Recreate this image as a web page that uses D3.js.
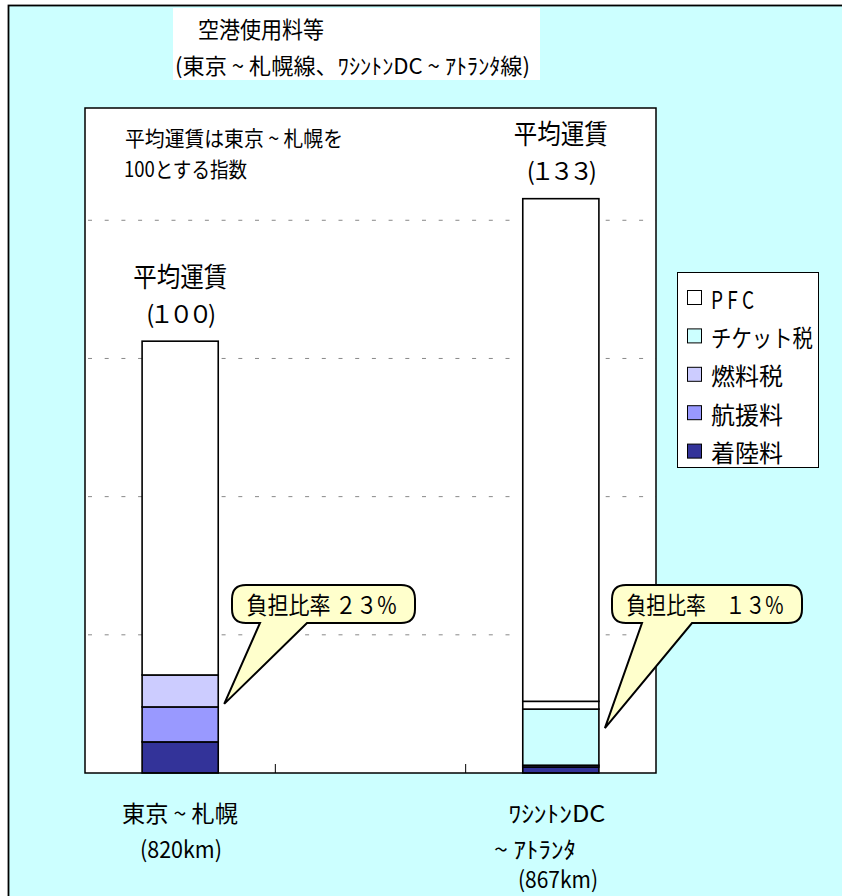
<!DOCTYPE html>
<html>
<head>
<meta charset="utf-8">
<script src="https://cdn.jsdelivr.net/npm/d3@7"></script>
<style>
  body { margin: 0; background: #fff; }
  text { font-family: "Noto Sans CJK JP", sans-serif; fill: #000; }
</style>
</head>
<body>
<div id="chart"></div>
<script>
var svgWidth = 842;
var svgHeight = 896;

// plot area
var margin = { top: 108, left: 85 };
var width = 571;
var height = 665;

// data (index: 東京～札幌 = 100)
var categories = ["tokyo", "blank", "dc"];
var catLabels = [["東京 ~ 札幌", "(820km)"], [], ["ﾜｼﾝﾄﾝDC", "~ ｱﾄﾗﾝﾀ", "(867km)"]];
var seriesNames = ["着陸料", "航援料", "燃料税", "チケット税", "PFC", "運賃"];
var landingFee = [7.2, 0, 1.4];
var navAidFee = [8.1, 0, 0.4];
var fuelTax = [7.4, 0, 0];
var ticketTax = [0, 0, 13.0];
var pfcFee = [0, 0, 1.8];
var baseFare = [77.3, 0, 116.4];
var fareIndex = ["(１００)", "", "(１３３)"];
var burdenLabels = ["負担比率 ２３%", "", "負担比率　１３%"];
var calloutAt = [16, 0, 10.4];
var gridTicks = [32, 64, 96, 128];
var yMax = 154;

var colors = ["#333399", "#9999FF", "#CCCCFF", "#CCFFFF", "#FFFFFF", "#FFFFFF"];

var table = categories.map(function(c, i) {
  return {
    cat: c,
    "着陸料": landingFee[i],
    "航援料": navAidFee[i],
    "燃料税": fuelTax[i],
    "チケット税": ticketTax[i],
    "PFC": pfcFee[i],
    "運賃": baseFare[i]
  };
});

var svg = d3.select("#chart")
  .append("svg")
  .attr("width", svgWidth)
  .attr("height", svgHeight);

// outer frame
svg.append("rect")
  .attr("x", 8.5).attr("y", 5.5)
  .attr("width", 900).attr("height", 1000)
  .attr("fill", "#CCFFFF")
  .attr("stroke", "#000").attr("stroke-width", 1.8);

function txt(g, s, x, y, size, len, anchor, adjust) {
  var t = g.append("text")
    .attr("x", x).attr("y", y)
    .attr("font-size", size)
    .attr("dominant-baseline", "central")
    .attr("text-anchor", anchor || "start")
    .text(s);
  if (len) t.attr("textLength", len).attr("lengthAdjust", adjust || "spacingAndGlyphs");
  return t;
}

// title box
svg.append("rect")
  .attr("x", 173).attr("y", 8).attr("width", 367).attr("height", 72)
  .attr("fill", "#fff");
txt(svg, "空港使用料等", 198, 28, 23, 126);
txt(svg, "(東京 ~ 札幌線、ﾜｼﾝﾄﾝDC ~ ｱﾄﾗﾝﾀ線)", 175, 64, 22, 355);

var chartGroup = svg.append("g")
  .attr("transform", `translate(${margin.left}, ${margin.top})`);

var xBand = d3.scaleBand()
  .domain(categories)
  .range([0, width])
  .padding(0);

var yLinearScale = d3.scaleLinear()
  .domain([0, yMax])
  .range([height, 0]);

var barW = xBand.bandwidth() * 0.4;

chartGroup.append("rect")
  .attr("width", width).attr("height", height)
  .attr("fill", "#fff");

// dashed gridlines
chartGroup.selectAll(".grid")
  .data(gridTicks)
  .enter()
  .append("line")
  .attr("x1", 3).attr("x2", width)
  .attr("y1", d => yLinearScale(d)).attr("y2", d => yLinearScale(d))
  .attr("stroke", "#888")
  .attr("stroke-dasharray", "4,12.7");

// category tick marks
chartGroup.selectAll(".ctick")
  .data(categories.slice(1))
  .enter()
  .append("line")
  .attr("x1", d => xBand(d)).attr("x2", d => xBand(d))
  .attr("y1", height).attr("y2", height - 9)
  .attr("stroke", "#000");

// stacked bars
var stacked = d3.stack().keys(seriesNames)(table);

var layers = chartGroup.selectAll(".layer")
  .data(stacked)
  .enter()
  .append("g")
  .attr("fill", (d, i) => colors[i]);

layers.selectAll("rect")
  .data(d => d.filter(p => p[1] - p[0] > 0))
  .enter()
  .append("rect")
  .attr("x", d => xBand(d.data.cat) + (xBand.bandwidth() - barW) / 2)
  .attr("width", barW)
  .attr("y", d => yLinearScale(d[1]))
  .attr("height", d => yLinearScale(d[0]) - yLinearScale(d[1]))
  .attr("stroke", "#000")
  .attr("stroke-width", 1.6);

// plot frame
chartGroup.append("rect")
  .attr("width", width).attr("height", height)
  .attr("fill", "none")
  .attr("stroke", "#000").attr("stroke-width", 1.5);

// fare labels above bars
table.forEach(function(d, i) {
  if (!fareIndex[i]) return;
  var total = seriesNames.reduce((s, k) => s + d[k], 0);
  var cx = xBand(d.cat) + xBand.bandwidth() / 2;
  var top = yLinearScale(total);
  txt(chartGroup, "平均運賃", cx, top - 66, 27, 94, "middle");
  txt(chartGroup, fareIndex[i], cx + 1, top - 29, 24, 70, "middle", "spacing");
});

// note
txt(svg, "平均運賃は東京 ~ 札幌を", 125, 137, 21, 218);
txt(svg, "100とする指数", 124, 168, 21, 123);

// callouts
function bubblePath(x, y, w, h, r, b1, b2, tx, ty) {
  return `M${x + r},${y} H${x + w - r} Q${x + w},${y} ${x + w},${y + r} V${y + h - r}` +
    ` Q${x + w},${y + h} ${x + w - r},${y + h} H${b2} L${tx},${ty} L${b1},${y + h}` +
    ` H${x + r} Q${x},${y + h} ${x},${y + h - r} V${y + r} Q${x},${y} ${x + r},${y} Z`;
}

var bubbles = [
  { i: 0, x: 232, y: 585, w: 183, h: 38, b1: 260, b2: 307, tlen: 150 },
  { i: 2, x: 612, y: 585, w: 190, h: 38, b1: 642, b2: 692, tlen: 157 }
];

bubbles.forEach(function(b) {
  var d = table[b.i];
  var tx = margin.left + xBand(d.cat) + (xBand.bandwidth() + barW) / 2 + 6;
  var ty = margin.top + yLinearScale(calloutAt[b.i]);
  svg.append("path")
    .attr("d", bubblePath(b.x, b.y, b.w, b.h, 14, b.b1, b.b2, tx, ty))
    .attr("fill", "#FFFFCC")
    .attr("stroke", "#000").attr("stroke-width", 2);
  txt(svg, burdenLabels[b.i], b.x + b.w / 2 - 2, b.y + 18, 24, b.tlen, "middle");
});

// legend
var legendNames = seriesNames.slice(0, 5).reverse();
var legendColors = colors.slice(0, 5).reverse();
var legendLens = [43, 102, 72, 72, 72];
var legend = svg.append("g");
legend.append("rect")
  .attr("x", 677.5).attr("y", 272.5).attr("width", 141).attr("height", 195)
  .attr("fill", "#fff").attr("stroke", "#000");
legendNames.forEach(function(n, i) {
  var cy = 298 + i * 38.4;
  legend.append("rect")
    .attr("x", 687.5).attr("y", cy - 7.5).attr("width", 14).attr("height", 14)
    .attr("fill", legendColors[i]).attr("stroke", "#000");
  txt(legend, n === "PFC" ? "P F C" : n, 711, cy, 24, legendLens[i], "start");
});

// category labels
var labelPos = [
  [[180, 812, 116], [181, 848, 82]],
  [],
  [[557, 812, 97], [535, 848, 82], [558, 878, 80]]
];
catLabels.forEach(function(lines, i) {
  lines.forEach(function(s, j) {
    var p = labelPos[i][j];
    txt(svg, s, p[0], p[1], 23, p[2], "middle");
  });
});
</script>
</body>
</html>
